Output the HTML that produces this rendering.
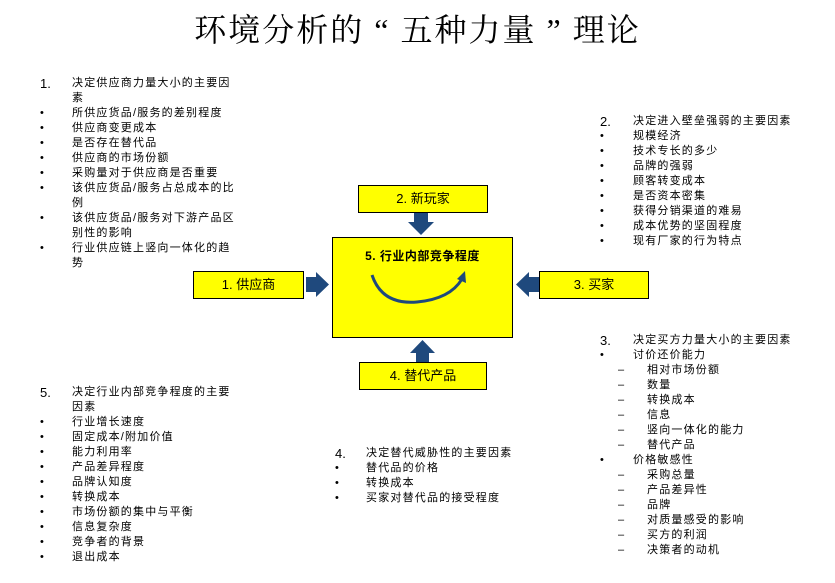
<!DOCTYPE html>
<html><head><meta charset="utf-8">
<style>
html,body{margin:0;padding:0;background:#fff;}
body{width:835px;height:583px;position:relative;overflow:hidden;font-family:"Liberation Sans","Noto Sans CJK SC",sans-serif;color:#000;}
.t{position:absolute;left:0;width:835px;top:10px;text-align:center;font-family:"Liberation Serif","Noto Serif CJK SC",serif;font-size:32px;line-height:40px;letter-spacing:2px;}
.blk{position:absolute;font-size:11px;line-height:15px;letter-spacing:1.2px;}
.l{position:relative;height:15px;white-space:nowrap;}
.m{position:absolute;left:0;top:0;}
.n{font-size:13px;letter-spacing:0;}
.box{position:absolute;background:#ffff00;border:1px solid #000;box-sizing:border-box;text-align:center;font-size:13px;}
</style></head><body>
<div class="t">环境分析的 “ 五种力量 ” 理论</div>

<div class="blk" style="left:40px;top:76px;">
<div class="l"><span class="m n">1.</span><span style="margin-left:32px">决定供应商力量大小的主要因</span></div>
<div class="l"><span style="margin-left:32px">素</span></div>
<div class="l"><span class="m">•</span><span style="margin-left:32px">所供应货品/服务的差别程度</span></div>
<div class="l"><span class="m">•</span><span style="margin-left:32px">供应商变更成本</span></div>
<div class="l"><span class="m">•</span><span style="margin-left:32px">是否存在替代品</span></div>
<div class="l"><span class="m">•</span><span style="margin-left:32px">供应商的市场份额</span></div>
<div class="l"><span class="m">•</span><span style="margin-left:32px">采购量对于供应商是否重要</span></div>
<div class="l"><span class="m">•</span><span style="margin-left:32px">该供应货品/服务占总成本的比</span></div>
<div class="l"><span style="margin-left:32px">例</span></div>
<div class="l"><span class="m">•</span><span style="margin-left:32px">该供应货品/服务对下游产品区</span></div>
<div class="l"><span style="margin-left:32px">别性的影响</span></div>
<div class="l"><span class="m">•</span><span style="margin-left:32px">行业供应链上竖向一体化的趋</span></div>
<div class="l"><span style="margin-left:32px">势</span></div>
</div>

<div class="blk" style="left:600px;top:114px;">
<div class="l"><span class="m n">2.</span><span style="margin-left:33px">决定进入壁垒强弱的主要因素</span></div>
<div class="l"><span class="m">•</span><span style="margin-left:33px">规模经济</span></div>
<div class="l"><span class="m">•</span><span style="margin-left:33px">技术专长的多少</span></div>
<div class="l"><span class="m">•</span><span style="margin-left:33px">品牌的强弱</span></div>
<div class="l"><span class="m">•</span><span style="margin-left:33px">顾客转变成本</span></div>
<div class="l"><span class="m">•</span><span style="margin-left:33px">是否资本密集</span></div>
<div class="l"><span class="m">•</span><span style="margin-left:33px">获得分销渠道的难易</span></div>
<div class="l"><span class="m">•</span><span style="margin-left:33px">成本优势的坚固程度</span></div>
<div class="l"><span class="m">•</span><span style="margin-left:33px">现有厂家的行为特点</span></div>
</div>

<div class="blk" style="left:600px;top:333px;">
<div class="l"><span class="m n">3.</span><span style="margin-left:33px">决定买方力量大小的主要因素</span></div>
<div class="l"><span class="m">•</span><span style="margin-left:33px">讨价还价能力</span></div>
<div class="l"><span class="m" style="left:18px">–</span><span style="margin-left:47px">相对市场份额</span></div>
<div class="l"><span class="m" style="left:18px">–</span><span style="margin-left:47px">数量</span></div>
<div class="l"><span class="m" style="left:18px">–</span><span style="margin-left:47px">转换成本</span></div>
<div class="l"><span class="m" style="left:18px">–</span><span style="margin-left:47px">信息</span></div>
<div class="l"><span class="m" style="left:18px">–</span><span style="margin-left:47px">竖向一体化的能力</span></div>
<div class="l"><span class="m" style="left:18px">–</span><span style="margin-left:47px">替代产品</span></div>
<div class="l"><span class="m">•</span><span style="margin-left:33px">价格敏感性</span></div>
<div class="l"><span class="m" style="left:18px">–</span><span style="margin-left:47px">采购总量</span></div>
<div class="l"><span class="m" style="left:18px">–</span><span style="margin-left:47px">产品差异性</span></div>
<div class="l"><span class="m" style="left:18px">–</span><span style="margin-left:47px">品牌</span></div>
<div class="l"><span class="m" style="left:18px">–</span><span style="margin-left:47px">对质量感受的影响</span></div>
<div class="l"><span class="m" style="left:18px">–</span><span style="margin-left:47px">买方的利润</span></div>
<div class="l"><span class="m" style="left:18px">–</span><span style="margin-left:47px">决策者的动机</span></div>
</div>

<div class="blk" style="left:40px;top:385px;">
<div class="l"><span class="m n">5.</span><span style="margin-left:32px">决定行业内部竞争程度的主要</span></div>
<div class="l"><span style="margin-left:32px">因素</span></div>
<div class="l"><span class="m">•</span><span style="margin-left:32px">行业增长速度</span></div>
<div class="l"><span class="m">•</span><span style="margin-left:32px">固定成本/附加价值</span></div>
<div class="l"><span class="m">•</span><span style="margin-left:32px">能力利用率</span></div>
<div class="l"><span class="m">•</span><span style="margin-left:32px">产品差异程度</span></div>
<div class="l"><span class="m">•</span><span style="margin-left:32px">品牌认知度</span></div>
<div class="l"><span class="m">•</span><span style="margin-left:32px">转换成本</span></div>
<div class="l"><span class="m">•</span><span style="margin-left:32px">市场份额的集中与平衡</span></div>
<div class="l"><span class="m">•</span><span style="margin-left:32px">信息复杂度</span></div>
<div class="l"><span class="m">•</span><span style="margin-left:32px">竞争者的背景</span></div>
<div class="l"><span class="m">•</span><span style="margin-left:32px">退出成本</span></div>
</div>

<div class="blk" style="left:335px;top:446px;">
<div class="l"><span class="m n">4.</span><span style="margin-left:31px">决定替代威胁性的主要因素</span></div>
<div class="l"><span class="m">•</span><span style="margin-left:31px">替代品的价格</span></div>
<div class="l"><span class="m">•</span><span style="margin-left:31px">转换成本</span></div>
<div class="l"><span class="m">•</span><span style="margin-left:31px">买家对替代品的接受程度</span></div>
</div>

<div class="box" style="left:358px;top:185px;width:130px;height:28px;line-height:26px;">2. 新玩家</div>
<div class="box" style="left:193px;top:271px;width:111px;height:28px;line-height:26px;">1. 供应商</div>
<div class="box" style="left:539px;top:271px;width:110px;height:28px;line-height:26px;">3. 买家</div>
<div class="box" style="left:359px;top:362px;width:128px;height:28px;line-height:26px;">4. 替代产品</div>
<div class="box" style="left:332px;top:237px;width:181px;height:101px;">
<div style="font-weight:bold;font-size:12px;margin-top:9px;letter-spacing:0.5px;">5. 行业内部竞争程度</div>
</div>

<svg width="835" height="583" style="position:absolute;left:0;top:0;" xmlns="http://www.w3.org/2000/svg">
<g fill="#1f497d">
<polygon points="306,277 316,277 316,272 329,284.5 316,297 316,292 306,292"/>
<polygon points="539,277 529,277 529,272 516,284.5 529,297 529,292 539,292"/>
<polygon points="414,213 428,213 428,222 434,222 421,235 408,222 414,222"/>
<polygon points="416,362 429,362 429,353 435,353 422.5,340 410,353 416,353"/>
</g>
<path d="M372,275 Q382,305 417,302 Q450,299 462,279" fill="none" stroke="#1f497d" stroke-width="3"/>
<polygon points="457,279 465,271 466,283" fill="#1f497d"/>
</svg>
</body></html>
